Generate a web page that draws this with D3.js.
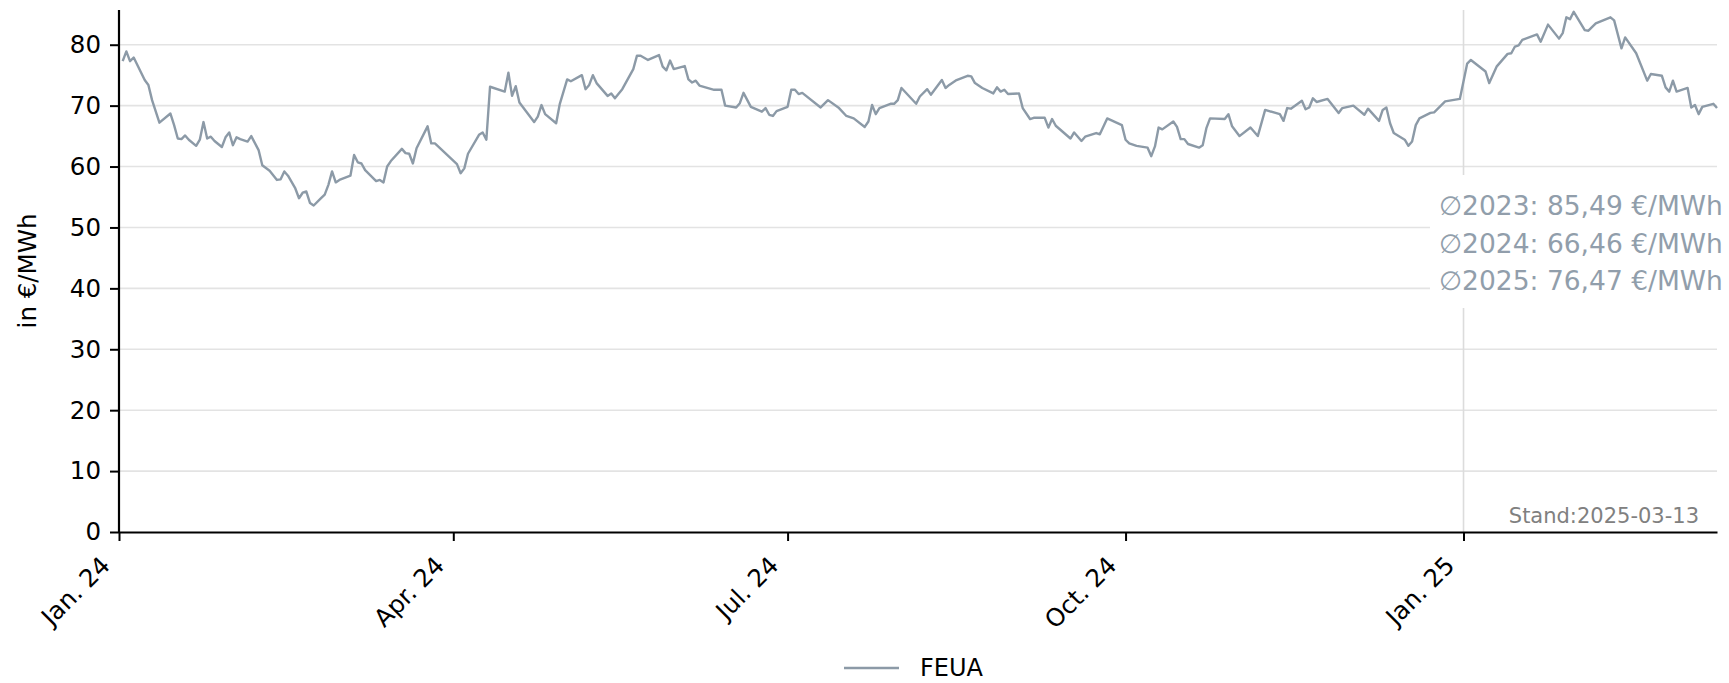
<!DOCTYPE html>
<html>
<head>
<meta charset="utf-8">
<script src="https://cdn.jsdelivr.net/npm/d3@7"></script>
<style>
  body { margin: 0; background: #fff; }
  text { font-family: "DejaVu Sans", sans-serif; }
</style>
</head>
<body>
<svg width="1729" height="683"></svg>
<script>
// FEUA settlement prices
var dates = [
  "2024-01-02","2024-01-03","2024-01-04","2024-01-05","2024-01-08","2024-01-09","2024-01-10","2024-01-12",
  "2024-01-15","2024-01-16","2024-01-17","2024-01-18","2024-01-19","2024-01-20","2024-01-22","2024-01-23",
  "2024-01-24","2024-01-25","2024-01-26","2024-01-27","2024-01-29","2024-01-30","2024-01-31","2024-02-01",
  "2024-02-02","2024-02-03","2024-02-05","2024-02-06","2024-02-08","2024-02-09","2024-02-11","2024-02-13",
  "2024-02-14","2024-02-15","2024-02-16","2024-02-18","2024-02-19","2024-02-20","2024-02-21","2024-02-22",
  "2024-02-23","2024-02-25","2024-02-26","2024-02-27","2024-02-28","2024-02-29","2024-03-01","2024-03-04",
  "2024-03-05","2024-03-06","2024-03-07","2024-03-08","2024-03-11","2024-03-12","2024-03-13","2024-03-14",
  "2024-03-15","2024-03-18","2024-03-19","2024-03-20","2024-03-21","2024-03-22","2024-03-25","2024-03-26",
  "2024-03-27","2024-04-02","2024-04-03","2024-04-04","2024-04-05","2024-04-08","2024-04-09","2024-04-10",
  "2024-04-11","2024-04-15","2024-04-16","2024-04-17","2024-04-18","2024-04-19","2024-04-23","2024-04-24",
  "2024-04-25","2024-04-26","2024-04-29","2024-04-30","2024-05-02","2024-05-03","2024-05-06","2024-05-07",
  "2024-05-08","2024-05-09","2024-05-10","2024-05-13","2024-05-14","2024-05-15","2024-05-17","2024-05-20",
  "2024-05-21","2024-05-22","2024-05-24","2024-05-27","2024-05-28","2024-05-29","2024-05-30","2024-05-31",
  "2024-06-03","2024-06-04","2024-06-05","2024-06-06","2024-06-07","2024-06-11","2024-06-13","2024-06-14",
  "2024-06-17","2024-06-18","2024-06-19","2024-06-21","2024-06-24","2024-06-25","2024-06-26","2024-06-27",
  "2024-06-28","2024-07-01","2024-07-02","2024-07-03","2024-07-04","2024-07-05","2024-07-10","2024-07-12",
  "2024-07-15","2024-07-17","2024-07-19","2024-07-22","2024-07-23","2024-07-24","2024-07-25","2024-07-26",
  "2024-07-29","2024-07-30","2024-07-31","2024-08-01","2024-08-05","2024-08-06","2024-08-08","2024-08-09",
  "2024-08-12","2024-08-13","2024-08-14","2024-08-16","2024-08-19","2024-08-20","2024-08-21","2024-08-23",
  "2024-08-26","2024-08-27","2024-08-28","2024-08-29","2024-08-30","2024-09-02","2024-09-03","2024-09-05",
  "2024-09-06","2024-09-09","2024-09-10","2024-09-11","2024-09-12","2024-09-16","2024-09-17","2024-09-19",
  "2024-09-20","2024-09-23","2024-09-24","2024-09-26","2024-09-30","2024-10-01","2024-10-02","2024-10-04",
  "2024-10-07","2024-10-08","2024-10-09","2024-10-10","2024-10-11","2024-10-14","2024-10-15","2024-10-16",
  "2024-10-17","2024-10-18","2024-10-21","2024-10-22","2024-10-23","2024-10-24","2024-10-28","2024-10-29",
  "2024-10-30","2024-11-01","2024-11-04","2024-11-06","2024-11-08","2024-11-12","2024-11-13","2024-11-14",
  "2024-11-15","2024-11-18","2024-11-19","2024-11-20","2024-11-21","2024-11-22","2024-11-25","2024-11-28",
  "2024-11-29","2024-12-02","2024-12-05","2024-12-06","2024-12-09","2024-12-10","2024-12-11","2024-12-12",
  "2024-12-13","2024-12-16","2024-12-17","2024-12-18","2024-12-19","2024-12-20","2024-12-23","2024-12-24",
  "2024-12-27","2024-12-31","2025-01-02","2025-01-03","2025-01-07","2025-01-08","2025-01-10","2025-01-13",
  "2025-01-14","2025-01-15","2025-01-16","2025-01-17","2025-01-21","2025-01-22","2025-01-24","2025-01-27",
  "2025-01-28","2025-01-29","2025-01-30","2025-01-31","2025-02-03","2025-02-04","2025-02-06","2025-02-10",
  "2025-02-11","2025-02-13","2025-02-14","2025-02-17","2025-02-20","2025-02-21","2025-02-24","2025-02-25",
  "2025-02-26","2025-02-27","2025-02-28","2025-03-03","2025-03-04","2025-03-05","2025-03-06","2025-03-07",
  "2025-03-10","2025-03-11"
];
var prices = [
  77.3,78.9,77.3,77.9,74.2,73.4,70.9,67.2,
  68.7,66.8,64.6,64.5,65.1,64.4,63.4,64.4,
  67.3,64.6,64.9,64.2,63.2,64.8,65.6,63.5,
  64.8,64.5,64.1,65.0,62.7,60.2,59.3,57.8,
  57.9,59.2,58.5,56.4,54.8,55.7,55.9,54.0,
  53.6,54.8,55.4,57.0,59.2,57.4,57.8,58.5,
  61.9,60.7,60.5,59.4,57.6,57.8,57.4,60.0,
  60.9,62.9,62.2,62.1,60.5,63.0,66.6,63.8,
  63.8,60.4,58.9,59.7,62.1,65.2,65.6,64.4,
  73.1,72.3,75.4,71.6,73.2,70.5,67.3,68.2,
  70.1,68.6,67.1,70.3,74.3,74.0,75.0,72.7,
  73.4,75.0,73.7,71.6,72.0,71.2,72.7,76.0,
  78.2,78.2,77.5,78.3,76.4,75.8,77.4,76.0,
  76.5,74.3,73.8,74.1,73.3,72.6,72.6,70.0,
  69.7,70.4,72.1,69.8,69.0,69.6,68.5,68.3,
  69.1,69.8,72.6,72.6,71.9,72.1,69.7,70.9,
  69.6,68.3,67.9,66.5,67.4,70.1,68.6,69.6,
  70.3,70.3,70.9,72.9,70.3,71.5,72.7,71.8,
  74.2,72.9,73.4,74.2,74.9,74.8,73.7,72.9,
  72.0,73.0,72.3,72.6,71.9,72.0,69.6,67.8,
  68.0,68.0,66.4,67.8,66.7,64.6,65.6,64.2,
  64.9,65.5,65.3,67.9,66.8,64.4,63.8,63.4,
  63.1,61.7,63.3,66.4,66.1,67.4,66.5,64.5,
  64.5,63.7,63.1,63.5,66.3,67.9,67.8,68.6,
  66.6,65.0,66.4,65.0,69.3,68.6,67.5,69.6,
  69.5,70.8,69.4,69.7,71.2,70.6,71.1,68.8,
  69.6,70.0,68.5,69.5,67.5,69.3,69.7,67.1,
  65.5,64.4,63.4,64.1,66.8,67.9,68.8,68.9,
  70.7,71.1,76.9,77.5,75.6,73.7,76.4,78.5,
  78.6,79.7,79.9,80.8,81.7,80.5,83.3,81.0,
  81.9,84.5,84.2,85.4,82.4,82.3,83.5,84.5,
  84.0,79.4,81.2,78.6,74.1,75.2,74.9,73.0,
  72.3,74.1,72.3,72.9,69.7,70.1,68.6,69.8,
  70.3,69.6
];
var yTicks = [0, 10, 20, 30, 40, 50, 60, 70, 80];
var xTickDates = ["2024-01-01", "2024-04-01", "2024-07-01", "2024-10-01", "2025-01-01"];
var xTickLabels = ["Jan. 24", "Apr. 24", "Jul. 24", "Oct. 24", "Jan. 25"];
var yearLine = "2025-01-01";
var averages = ["\u22052023: 85,49 €/MWh", "\u22052024: 66,46 €/MWh", "\u22052025: 76,47 €/MWh"];
var seriesName = "FEUA";
var standText = "Stand:2025-03-13";

var lineColor = "#8c9aa7";
var parseDate = d3.utcParse("%Y-%m-%d");

var svg = d3.select("svg"),
    margin = {top: 10, right: 12, bottom: 151, left: 119},
    width = +svg.attr("width") - margin.left - margin.right,
    height = +svg.attr("height") - margin.top - margin.bottom,
    g = svg.append("g")
           .attr("transform", "translate(" + margin.left + "," + margin.top + ")");

var data = dates.map(function(d, i) { return {date: parseDate(d), value: prices[i]}; });

var x = d3.scaleUtc()
    .domain([parseDate("2024-01-01"), parseDate("2025-03-11")])
    .range([0, width]);
var y = d3.scaleLinear()
    .domain([0, 85.7])
    .range([height, 0]);

// horizontal grid
g.append("g")
  .selectAll("line")
  .data(yTicks.slice(1))
  .join("line")
    .attr("x1", 0)
    .attr("x2", width)
    .attr("y1", function(d) { return y(d); })
    .attr("y2", function(d) { return y(d); })
    .attr("stroke", "#e3e3e3")
    .attr("stroke-width", 1.6);

// vertical marker at the turn of the year
g.append("line")
  .attr("x1", x(parseDate(yearLine)))
  .attr("x2", x(parseDate(yearLine)))
  .attr("y1", 0)
  .attr("y2", height)
  .attr("stroke", "#dcdcdc")
  .attr("stroke-width", 1.6);

var line = d3.line()
    .x(function(d) { return x(d.date); })
    .y(function(d) { return y(d.value); });

g.append("path")
  .datum(data)
  .attr("d", line)
  .attr("fill", "none")
  .attr("stroke", lineColor)
  .attr("stroke-width", 2.4)
  .attr("stroke-linejoin", "round");

// averages box
var box = g.append("g")
  .attr("transform", "translate(" + (1430 - margin.left) + "," + (175 - margin.top) + ")");
box.append("rect")
  .attr("width", 300)
  .attr("height", 133)
  .attr("fill", "#fff");
box.selectAll("text")
  .data(averages)
  .join("text")
    .attr("x", 9)
    .attr("y", function(d, i) { return 40 + i * 37.7; })
    .attr("fill", "#919eab")
    .style("font-size", "26.5px")
    .text(function(d) { return d; });

g.append("text")
  .attr("x", 1699 - margin.left)
  .attr("y", height - 9)
  .attr("text-anchor", "end")
  .attr("fill", "#808080")
  .style("font-size", "21px")
  .text(standText);

// axes
var yAxis = g.append("g")
  .call(d3.axisLeft(y).tickValues(yTicks).tickSize(9).tickPadding(9));
var xAxis = g.append("g")
  .attr("transform", "translate(0," + height + ")")
  .call(d3.axisBottom(x)
          .tickValues(xTickDates.map(parseDate))
          .tickFormat(function(d, i) { return xTickLabels[i]; })
          .tickSize(9).tickSizeOuter(0));

[yAxis, xAxis].forEach(function(a) {
  a.selectAll(".domain").attr("stroke", "#000").attr("stroke-width", 2.2);
  a.selectAll(".tick line").attr("stroke", "#000").attr("stroke-width", 2);
  a.selectAll("text").attr("fill", "#000").style("font-size", "24.5px")
    .style("font-family", "DejaVu Sans");
});
yAxis.select(".domain").attr("d", "M0," + height + "V0");

xAxis.selectAll(".tick text")
  .attr("text-anchor", "end")
  .attr("dy", null)
  .attr("y", null)
  .attr("transform", "translate(-8,35) rotate(-45)");

svg.append("text")
  .attr("transform", "translate(36," + (margin.top + height / 2) + ") rotate(-90)")
  .attr("text-anchor", "middle")
  .style("font-size", "24.5px")
  .text("in €/MWh");

// legend
var legend = svg.append("g").attr("transform", "translate(844,668)");
legend.append("line")
  .attr("x1", 0).attr("x2", 55)
  .attr("stroke", lineColor)
  .attr("stroke-width", 2.6);
legend.append("text")
  .attr("x", 76)
  .attr("y", 8)
  .style("font-size", "24px")
  .text(seriesName);
</script>
</body>
</html>
